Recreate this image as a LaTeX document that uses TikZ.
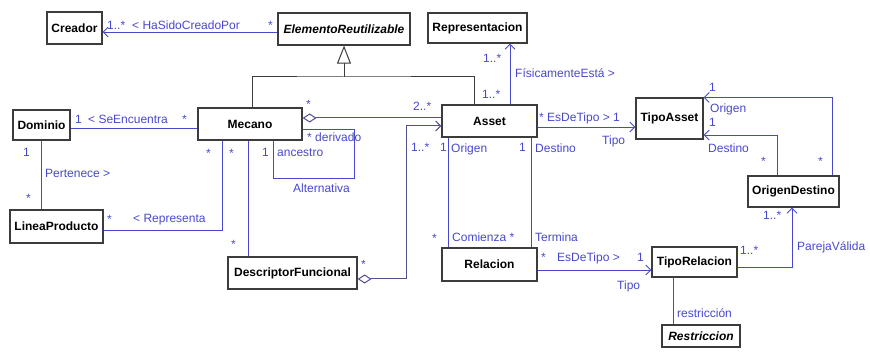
\documentclass[tikz,border=0pt]{standalone}
\usepackage{fontspec}
\setmainfont{Liberation Sans}
\usepackage{xcolor}
\usetikzlibrary{arrows.meta}
\definecolor{umlblue}{RGB}{72,72,205}
\definecolor{umlgray}{RGB}{60,60,60}
\definecolor{umlagg}{RGB}{80,80,140}

\begin{document}
\begin{tikzpicture}[x=1pt,y=-1pt,
  clase/.style={draw=umlgray,line width=1.2pt,fill=white,inner sep=0pt,minimum height=32pt,font=\fontsize{12}{13}\selectfont\bfseries},
  abst/.style={clase,font=\fontsize{12}{13}\selectfont\bfseries\itshape},
  rol/.style={text=umlblue,inner sep=0pt,anchor=base west,font=\fontsize{12}{13}\selectfont},
  asoc/.style={draw=umlblue,line width=0.9pt},
  nav/.style={asoc,-{Straight Barb[length=5pt,width=10pt]}},
  gen/.style={draw=umlgray,line width=1pt},
  agr/.style={draw=umlagg,line width=1pt}]
\useasboundingbox (0,0) rectangle (870,355);
\node[clase,minimum width=55pt] (creador) at (74.5,28) {Creador};
\node[abst,minimum width=132pt] (elemento) at (344,29) {ElementoReutilizable};
\node[clase,minimum width=99pt,minimum height=30pt] (repres) at (477.5,28) {Representacion};
\node[clase,minimum width=57pt,minimum height=30pt] (dominio) at (41.5,125) {Dominio};
\node[clase,minimum width=104pt] (mecano) at (250,124) {Mecano};
\node[clase,minimum width=95pt] (asset) at (489.5,121) {Asset};
\node[clase,minimum width=67pt,minimum height=41pt] (tipoasset) at (669.5,118.5) {TipoAsset};
\node[clase,minimum width=91pt,minimum height=31pt] (origdest) at (793.5,191.5) {OrigenDestino};
\node[clase,minimum width=93pt,minimum height=33pt] (linea) at (56.5,226.5) {LineaProducto};
\node[clase,minimum width=129pt] (descriptor) at (292.5,273) {DescriptorFuncional};
\node[clase,minimum width=95pt,minimum height=33pt] (relacion) at (489.5,264.5) {Relacion};
\node[clase,minimum width=85pt,minimum height=30pt] (tiporel) at (694.5,262) {TipoRelacion};
\node[abst,minimum width=78pt,minimum height=22pt] (restric) at (701,336) {Restriccion};
\coordinate (genbar) at (344,77);
\draw[gen,{Triangle[open,length=18pt,width=14pt]}-] (elemento.south) -- (genbar);
\draw[gen] ([xshift=2pt]mecano.north) |- (genbar) -| ([xshift=-15.5pt]asset.north);
\draw[nav] ([yshift=-3pt]elemento.west) -- ([yshift=-3pt]elemento.west -| creador.east);
\draw[nav] ([xshift=20.5pt]asset.north) -- ([xshift=20.5pt]asset.north |- repres.south);
\draw[agr,{Diamond[open,length=14pt,width=9pt]}-] ([yshift=6pt]mecano.east) -- ([yshift=6pt]mecano.east -| asset.west);
\draw[agr,{Diamond[open,length=14pt,width=9pt]}-{Straight Barb[length=5pt,width=10pt]}] ([yshift=-6pt]descriptor.east) -| ([xshift=-35pt,yshift=-5pt]asset.west) -- ([yshift=-5pt]asset.west);
\draw[asoc] ([yshift=-5pt]mecano.east) -- ++(52,0) -- ++(0,49) -| ([xshift=23pt]mecano.south);
\draw[asoc] ([yshift=-3pt]dominio.east) -- ([yshift=-3pt]dominio.east -| mecano.west);
\draw[asoc] (dominio.south) -- (dominio.south |- linea.north);
\draw[asoc] ([xshift=-28pt]mecano.south) |- ([yshift=-3.5pt]linea.east);
\draw[asoc] ([xshift=-2pt]mecano.south) -- ([xshift=-2pt]mecano.south |- descriptor.north);
\draw[asoc] ([xshift=-41.5pt]asset.south) -- ([xshift=-41.5pt]asset.south |- relacion.north);
\draw[asoc] ([xshift=41.5pt]asset.south) -- ([xshift=41.5pt]asset.south |- relacion.north);
\draw[nav] ([yshift=-6pt]asset.east) -- ([yshift=-6pt]asset.east -| tipoasset.west);
\draw[nav] ([xshift=38.5pt]origdest.north) |- (tipoasset.north east);
\draw[nav] ([xshift=-16.5pt]origdest.north) |- ([yshift=-16.5pt]tipoasset.east);
\draw[nav] ([yshift=-5pt]tiporel.east) -| ([xshift=-1.5pt]origdest.south);
\draw[nav] ([yshift=-5.5pt]relacion.east) -- ([yshift=-5.5pt]relacion.east -| tiporel.west);
\draw[asoc] ([xshift=-21.5pt]tiporel.south) -- ([xshift=-21.5pt]tiporel.south |- restric.north);
\node[rol] (creadoM) at (107,30) {1..*};
\node[rol] (creadoR) at (132,30) {< HaSidoCreadoPor};
\node[rol] (creadoN) at (268,30) {*};
\node[rol] (encuM) at (75,124) {1};
\node[rol] (encuR) at (88,124) {< SeEncuentra};
\node[rol] (encuN) at (182,124) {*};
\node[rol] (pertM) at (23,157) {1};
\node[rol] (pertR) at (45,178) {Pertenece >};
\node[rol] (pertN) at (26,203) {*};
\node[rol] (repM) at (206,158) {*};
\node[rol] (repR) at (133,223) {< Representa};
\node[rol] (repN) at (107,224) {*};
\node[rol] (descM) at (229,158) {*};
\node[rol] (descN) at (231,249) {*};
\node[rol] (aggM) at (306,109) {*};
\node[rol] (aggN) at (413,111) {2..*};
\node[rol] (derivado) at (307,142) {* derivado};
\node[rol] (ancM) at (262,157) {1};
\node[rol] (ancestro) at (277,157) {ancestro};
\node[rol] (altern) at (293,193) {Alternativa};
\node[rol] (contM) at (361,269) {*};
\node[rol] (contN) at (411,152) {1..*};
\node[rol] (fisM) at (482,99) {1..*};
\node[rol] (fisN) at (483,63) {1..*};
\node[rol] (fisR) at (515,78) {FísicamenteEstá >};
\node[rol] (origM) at (440,152) {1};
\node[rol] (origR) at (451,153) {Origen};
\node[rol] (destM) at (519,152) {1};
\node[rol] (destR) at (535,153) {Destino};
\node[rol] (comN) at (432,243) {*};
\node[rol] (comR) at (452,242) {Comienza *};
\node[rol] (termR) at (535,242) {Termina};
\node[rol] (tipoA) at (539,122) {* EsDeTipo > 1};
\node[rol] (tipoAR) at (602,145) {Tipo};
\node[rol] (odOrigM) at (709,92) {1};
\node[rol] (odOrigR) at (710,113) {Origen};
\node[rol] (odDestM) at (709,126.5) {1};
\node[rol] (odDestR) at (708,153) {Destino};
\node[rol] (odDestN) at (761,166) {*};
\node[rol] (odOrigN) at (818,166) {*};
\node[rol] (parM) at (763,220) {1..*};
\node[rol] (parN) at (740,255) {1..*};
\node[rol] (parR) at (797,251) {ParejaVálida};
\node[rol] (tipoRN) at (541,262) {*};
\node[rol] (tipoR) at (557,262) {EsDeTipo >};
\node[rol] (tipoRM) at (637,262) {1};
\node[rol] (tipoRR) at (617,290) {Tipo};
\node[rol] (restrR) at (677,317) {restricción};
\end{tikzpicture}
\end{document}
